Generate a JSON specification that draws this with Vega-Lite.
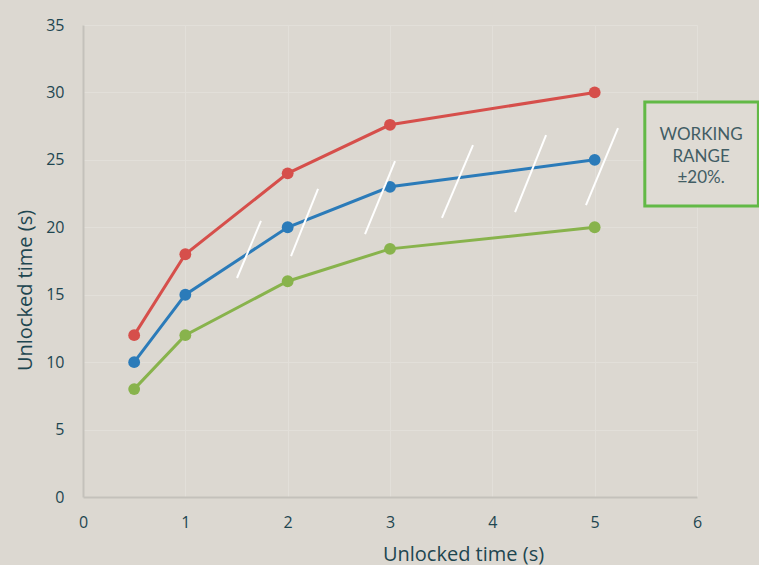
{
  "$schema": "https://vega.github.io/schema/vega-lite/v6.json",
  "width": 614,
  "height": 472,
  "autosize": {"type": "none"},
  "padding": {"left": 83, "top": 25, "right": 62, "bottom": 68},
  "background": "#dcd8d1",
  "config": {
    "view": {"stroke": null},
    "font": "Lato",
    "axis": {
      "grid": true,
      "gridColor": "#e2dfd9",
      "gridWidth": 1,
      "domainColor": "#c4c1bb",
      "domainWidth": 2,
      "ticks": false,
      "labelColor": "#1e4650",
      "labelFontSize": 16,
      "labelFont": "Open Sans",
      "labelFlush": false,
      "labelOverlap": false,
      "format": "d",
      "titleColor": "#1e4650",
      "titleFontSize": 20,
      "titleFontWeight": "normal",
      "titleFont": "Open Sans"
    }
  },
  "datasets": {
    "series": [
      {"t": 0.5, "v": 12, "s": "High"}, {"t": 1, "v": 18, "s": "High"}, {"t": 2, "v": 24, "s": "High"}, {"t": 3, "v": 27.6, "s": "High"}, {"t": 5, "v": 30, "s": "High"},
      {"t": 0.5, "v": 10, "s": "Mid"}, {"t": 1, "v": 15, "s": "Mid"}, {"t": 2, "v": 20, "s": "Mid"}, {"t": 3, "v": 23, "s": "Mid"}, {"t": 5, "v": 25, "s": "Mid"},
      {"t": 0.5, "v": 8, "s": "Low"}, {"t": 1, "v": 12, "s": "Low"}, {"t": 2, "v": 16, "s": "Low"}, {"t": 3, "v": 18.4, "s": "Low"}, {"t": 5, "v": 20, "s": "Low"}
    ],
    "hatch": [
      {"x1": 1.505, "y1": 16.24, "x2": 1.739, "y2": 20.47},
      {"x1": 2.033, "y1": 17.87, "x2": 2.297, "y2": 22.84},
      {"x1": 2.756, "y1": 19.5, "x2": 3.049, "y2": 24.9},
      {"x1": 3.508, "y1": 20.69, "x2": 3.811, "y2": 26.1},
      {"x1": 4.222, "y1": 21.13, "x2": 4.525, "y2": 26.84},
      {"x1": 4.915, "y1": 21.65, "x2": 5.228, "y2": 27.36}
    ],
    "box": [
      {"x1": 5.49, "x2": 6.6, "y1": 21.58, "y2": 29.29, "xc": 6.04, "yc": 26.84, "label": ["WORKING", "RANGE", "±20%."]}
    ]
  },
  "layer": [
    {
      "data": {"name": "series"},
      "mark": {"type": "line", "strokeWidth": 3, "point": {"filled": true, "size": 140, "opacity": 1}},
      "encoding": {
        "x": {"field": "t", "type": "quantitative", "scale": {"domain": [0, 6], "nice": false}, "axis": {"values": [0,1,2,3,4,5,6], "labelPadding": 17, "title": "Unlocked time (s)", "titleX": 380, "titleY": 57, "titleBaseline": "middle", "titleAlign": "center"}},
        "y": {"field": "v", "type": "quantitative", "scale": {"domain": [0, 35], "nice": false}, "axis": {"values": [0,5,10,15,20,25,30,35], "labelPadding": 19, "title": "Unlocked time (s)", "titleX": -58, "titleY": 265, "titleBaseline": "middle", "titleAlign": "center", "titleAngle": -90}},
        "color": {"field": "s", "type": "nominal", "scale": {"domain": ["High", "Mid", "Low"], "range": ["#d64f4b", "#2b7bb9", "#88b34c"]}, "legend": null}
      }
    },
    {
      "data": {"name": "hatch"},
      "mark": {"type": "rule", "color": "#ffffff", "strokeWidth": 2},
      "encoding": {
        "x": {"field": "x1", "type": "quantitative"},
        "y": {"field": "y1", "type": "quantitative"},
        "x2": {"field": "x2"},
        "y2": {"field": "y2"}
      }
    },
    {
      "data": {"name": "box"},
      "mark": {"type": "rect", "fill": "#dfdbd4", "stroke": "#62b946", "strokeWidth": 3},
      "encoding": {
        "x": {"field": "x1", "type": "quantitative"},
        "x2": {"field": "x2"},
        "y": {"field": "y1", "type": "quantitative"},
        "y2": {"field": "y2"}
      }
    },
    {
      "data": {"name": "box"},
      "mark": {"type": "text", "font": "Lato", "fontSize": 17, "color": "#425d64", "align": "center", "baseline": "middle", "lineHeight": 21.5},
      "encoding": {
        "x": {"field": "xc", "type": "quantitative"},
        "y": {"field": "yc", "type": "quantitative"},
        "text": {"field": "label"}
      }
    }
  ]
}
